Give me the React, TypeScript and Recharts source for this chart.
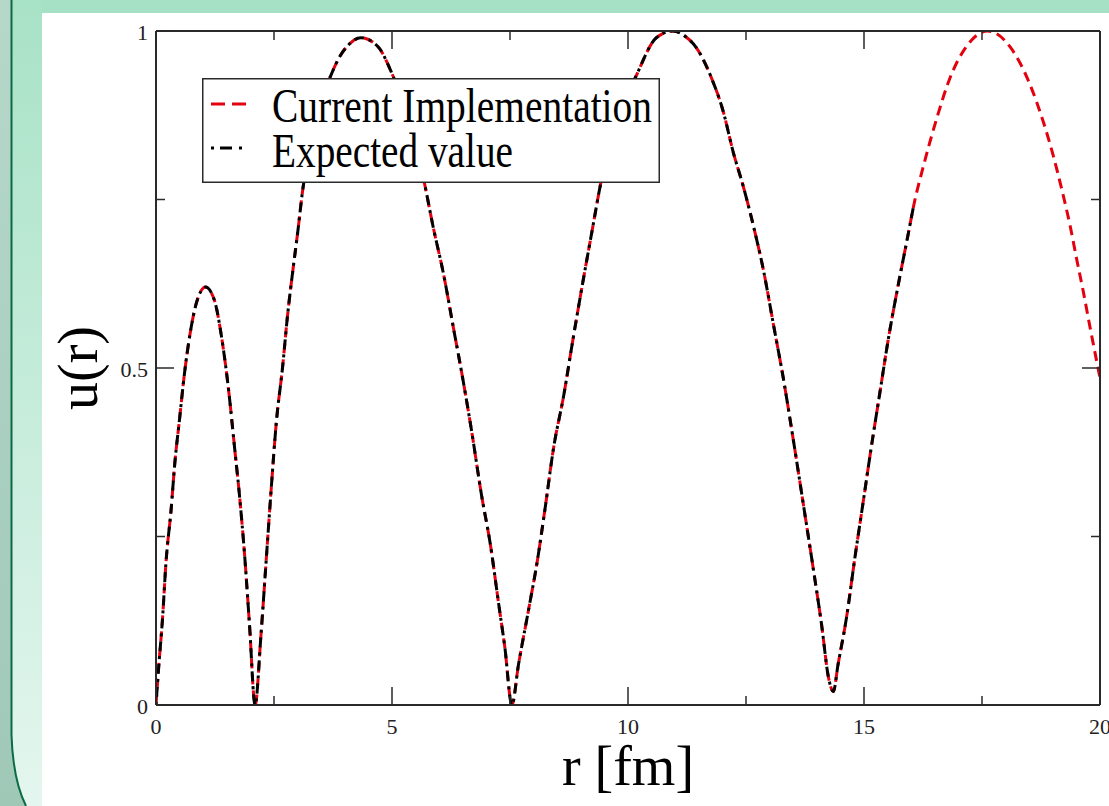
import React from 'react';
import { LineChart, Line, XAxis, YAxis, Legend } from 'recharts';

// r [fm]
const rValues = [
  0, 0.05, 0.14, 0.21, 0.32, 0.4, 0.5, 0.6, 0.72, 0.85, 1.05, 1.24, 1.38, 1.55, 1.66, 1.77, 1.88, 1.98, 2.1,
  2.22, 2.33, 2.44, 2.55, 2.68, 2.79, 2.9, 3.0, 3.11, 3.3, 3.5, 3.71, 3.9, 4.06, 4.34, 4.7, 4.98, 5.2, 5.4, 5.7,
  5.87, 6.09, 6.3, 6.51, 6.69, 6.9, 7.08, 7.26, 7.39, 7.54, 7.68, 7.89, 8.07, 8.24, 8.42, 8.64, 8.84, 9.05,
  9.23, 9.44, 9.7, 9.95, 10.15, 10.6, 10.95, 11.25, 11.45, 11.77, 12.02, 12.23, 12.44, 12.66, 12.87, 13.08,
  13.29, 13.51, 13.71, 13.93, 14.1, 14.25, 14.35, 14.45, 14.63, 14.81, 14.98, 15.16, 15.34, 15.52, 15.73,
  15.94, 16.05, 16.26, 16.54, 16.82, 17.17, 17.62, 18.1, 18.52, 18.8, 19.01, 19.19, 19.37, 19.51,
  19.65, 19.79, 19.93, 20.0,
];

// Current Implementation u(r)
const currentImplementation = [
  0, 0.05, 0.13, 0.21, 0.29, 0.36, 0.425, 0.49, 0.55, 0.595, 0.62, 0.6, 0.55, 0.46, 0.385, 0.31, 0.22, 0.12, 0.0,
  0.1, 0.21, 0.32, 0.42, 0.5, 0.58, 0.645, 0.7, 0.765, 0.835, 0.895, 0.935, 0.963, 0.978, 0.99, 0.977, 0.94, 0.9, 0.86, 0.77,
  0.71, 0.64, 0.56, 0.48, 0.405, 0.31, 0.24, 0.15, 0.086, 0.0, 0.06, 0.14, 0.21, 0.29, 0.38, 0.46, 0.545, 0.63,
  0.7, 0.78, 0.85, 0.9, 0.93, 0.99, 1.0, 0.99, 0.975, 0.93, 0.88, 0.82, 0.77, 0.71, 0.645, 0.565,
  0.485, 0.39, 0.3, 0.2, 0.12, 0.04, 0.02, 0.06, 0.13, 0.22, 0.3, 0.385, 0.465, 0.545, 0.625,
  0.7, 0.74, 0.8, 0.87, 0.93, 0.977, 1.0, 0.976, 0.92, 0.865, 0.815, 0.765, 0.71, 0.66,
  0.612, 0.56, 0.51, 0.485,
];

// Expected value u(r) (ends near r = 16)
const expectedValue = [
  0, 0.05, 0.13, 0.21, 0.29, 0.36, 0.425, 0.49, 0.55, 0.595, 0.62, 0.6, 0.55, 0.46, 0.385, 0.31, 0.22, 0.12, 0.0,
  0.1, 0.21, 0.32, 0.42, 0.5, 0.58, 0.645, 0.7, 0.765, 0.835, 0.895, 0.935, 0.963, 0.978, 0.99, 0.977, 0.94, 0.9, 0.86, 0.77,
  0.71, 0.64, 0.56, 0.48, 0.405, 0.31, 0.24, 0.15, 0.086, 0.0, 0.06, 0.14, 0.21, 0.29, 0.38, 0.46, 0.545, 0.63,
  0.7, 0.78, 0.85, 0.9, 0.93, 0.99, 1.0, 0.99, 0.975, 0.93, 0.88, 0.82, 0.77, 0.71, 0.645, 0.565,
  0.485, 0.39, 0.3, 0.2, 0.12, 0.04, 0.02, 0.06, 0.13, 0.22, 0.3, 0.385, 0.465, 0.545, 0.625,
  0.7, 0.74, null, null, null, null, null, null, null, null, null, null, null, null,
  null, null, null, null,
];

const xTicks = [0, 2.5, 5, 7.5, 10, 12.5, 15, 17.5, 20];
const xMajorTicks = [0, 5, 10, 15, 20];
const yTicks = [0, 0.25, 0.5, 0.75, 1];
const yMajorTicks = [0, 0.5, 1];
const yTickLabels: Record<string, string> = { '0': '0', '0.5': '0.5', '1': '1' };

const seriesNames = ['Current Implementation', 'Expected value'];
const xTitle = 'r [fm]';
const yTitle = 'u(r)';

const data = rValues.map((r, i) => ({
  r,
  current: currentImplementation[i],
  expected: expectedValue[i],
}));

const SERIF = '"Liberation Serif", "Times New Roman", "DejaVu Serif", serif';
const FRAME = '#2a2a2a';
const RED = '#e3000f';

const BottomTick = (p: any) => {
  const { x, y, payload } = p;
  const major = xMajorTicks.includes(payload.value);
  return (
    <g>
      <line x1={x} y1={y} x2={x} y2={y - (major ? 18 : 9)} stroke={FRAME} strokeWidth={1.5} />
      {major && (
        <text x={x} y={y + 29} textAnchor="middle" fontFamily={SERIF} fontSize={22} fill="#222">
          {String(payload.value)}
        </text>
      )}
    </g>
  );
};

const TopTick = (p: any) => {
  const { x, y, payload } = p;
  const major = xMajorTicks.includes(payload.value);
  return <line x1={x} y1={y} x2={x} y2={y + (major ? 18 : 9)} stroke={FRAME} strokeWidth={1.5} />;
};

const LeftTick = (p: any) => {
  const { x, y, payload } = p;
  const major = yMajorTicks.includes(payload.value);
  return (
    <g>
      <line x1={x} y1={y} x2={x + (major ? 18 : 9)} y2={y} stroke={FRAME} strokeWidth={1.5} />
      {major && (
        <text x={x - 8} y={y + 9} textAnchor="end" fontFamily={SERIF} fontSize={22} fill="#222">
          {yTickLabels[String(payload.value)]}
        </text>
      )}
    </g>
  );
};

const RightTick = (p: any) => {
  const { x, y, payload } = p;
  const major = yMajorTicks.includes(payload.value);
  return <line x1={x} y1={y} x2={x - (major ? 18 : 9)} y2={y} stroke={FRAME} strokeWidth={1.5} />;
};

const XTitle = (p: any) => {
  const vb = p.viewBox || {};
  return (
    <text x={vb.x + vb.width / 2} y={vb.y + 80} textAnchor="middle" fontFamily={SERIF} fontSize={56} fill="#000">
      {xTitle}
    </text>
  );
};

const YTitle = (p: any) => {
  const vb = p.viewBox || {};
  const cx = vb.x - 58;
  const cy = vb.y + vb.height / 2;
  return (
    <text
      x={cx}
      y={cy}
      transform={`rotate(-90 ${cx} ${cy})`}
      textAnchor="middle"
      fontFamily={SERIF}
      fontSize={56}
      fill="#000"
    >
      {yTitle}
    </text>
  );
};

const LegendContent = () => (
  <svg width={458} height={105} style={{ display: 'block' }}>
    <rect x={0.75} y={0.75} width={456.5} height={103.5} fill="#fff" stroke={FRAME} strokeWidth={1.5} />
    <line x1={9} y1={26} x2={49} y2={26} stroke={RED} strokeWidth={3} strokeDasharray="14 7" />
    <line x1={9} y1={70} x2={49} y2={70} stroke="#000" strokeWidth={3} strokeDasharray="3 6 12 7 3 20" />
    <text x={70} y={44} fontFamily={SERIF} fontSize={48} fill="#000" textLength={380} lengthAdjust="spacingAndGlyphs">
      {seriesNames[0]}
    </text>
    <text x={70} y={89} fontFamily={SERIF} fontSize={48} fill="#000" textLength={241} lengthAdjust="spacingAndGlyphs">
      {seriesNames[1]}
    </text>
  </svg>
);

export default function App() {
  return (
    <div style={{ position: 'absolute', left: 0, top: 0, width: 1109, height: 806, background: '#fff', overflow: 'hidden' }}>
      {/* slide decoration */}
      <div style={{ position: 'absolute', left: 0, top: 0, width: 1109, height: 13, background: '#a6e1c5' }} />
      <svg width={44} height={806} style={{ position: 'absolute', left: 0, top: 0 }}>
        <defs>
          <linearGradient id="col" x1="0" y1="0" x2="0" y2="1">
            <stop offset="0" stopColor="#a8e2c6" />
            <stop offset="0.5" stopColor="#c6ecdb" />
            <stop offset="1" stopColor="#e4f6ef" />
          </linearGradient>
          <linearGradient id="strip" x1="0" y1="0" x2="0" y2="1">
            <stop offset="0" stopColor="#b6d8cb" />
            <stop offset="1" stopColor="#a0c8b7" />
          </linearGradient>
        </defs>
        <rect x={0} y={0} width={42} height={806} fill="url(#col)" />
        <path d="M0,0 L11.5,0 L11.5,735 Q13,780 26,806 L0,806 Z" fill="url(#strip)" />
        <path d="M11.5,0 L11.5,735 Q13,780 26,806" fill="none" stroke="#0b6b45" strokeWidth={2} />
      </svg>
      <div style={{ position: 'absolute', left: 0, top: 0 }}>
        <LineChart width={1109} height={806} data={data} margin={{ top: 30, right: 8, bottom: 100, left: 155 }}>
          <XAxis
            xAxisId="b"
            dataKey="r"
            type="number"
            domain={[0, 20]}
            ticks={xTicks}
            interval={0}
            height={1}
            tickSize={0}
            tickMargin={0}
            tickLine={false}
            tick={BottomTick}
            axisLine={{ stroke: FRAME, strokeWidth: 2 }}
            allowDataOverflow
            label={{ content: XTitle }}
          />
          <XAxis
            xAxisId="t"
            orientation="top"
            dataKey="r"
            type="number"
            domain={[0, 20]}
            ticks={xTicks}
            interval={0}
            height={1}
            tickSize={0}
            tickMargin={0}
            tickLine={false}
            tick={TopTick}
            axisLine={{ stroke: FRAME, strokeWidth: 2 }}
            allowDataOverflow
          />
          <YAxis
            yAxisId="l"
            type="number"
            domain={[0, 1]}
            ticks={yTicks}
            interval={0}
            width={1}
            tickSize={0}
            tickMargin={0}
            tickLine={false}
            tick={LeftTick}
            axisLine={{ stroke: FRAME, strokeWidth: 2 }}
            allowDataOverflow
            label={{ content: YTitle }}
          />
          <YAxis
            yAxisId="r"
            orientation="right"
            type="number"
            domain={[0, 1]}
            ticks={yTicks}
            interval={0}
            width={1}
            tickSize={0}
            tickMargin={0}
            tickLine={false}
            tick={RightTick}
            axisLine={{ stroke: FRAME, strokeWidth: 2 }}
            allowDataOverflow
          />
          <Line
            xAxisId="b"
            yAxisId="l"
            type="monotone"
            dataKey="current"
            name={seriesNames[0]}
            stroke={RED}
            strokeWidth={3}
            strokeDasharray="10 6"
            dot={false}
            activeDot={false}
            isAnimationActive={false}
          />
          <Line
            xAxisId="b"
            yAxisId="l"
            type="monotone"
            dataKey="expected"
            name={seriesNames[1]}
            stroke="#000"
            strokeWidth={3}
            strokeDasharray="3 5 10 5"
            dot={false}
            activeDot={false}
            connectNulls={false}
            isAnimationActive={false}
          />
          <Legend
            layout="vertical"
            align="center"
            verticalAlign="middle"
            wrapperStyle={{ left: 202, top: 78, width: 458, height: 105 }}
            content={LegendContent}
          />
        </LineChart>
      </div>
    </div>
  );
}
